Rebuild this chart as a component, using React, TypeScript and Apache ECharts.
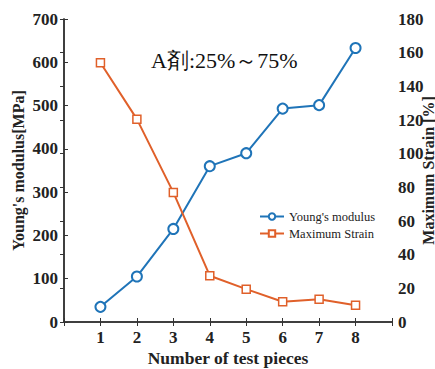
import React, { useEffect, useRef } from "react";
import * as echarts from "echarts";

const pieces = [1, 2, 3, 4, 5, 6, 7, 8];
const youngsModulus = [35, 105, 215, 360, 390, 493, 501, 633];
const maxStrain = [154, 120.5, 77, 27.5, 19.5, 12, 13.5, 10];
const leftTicks = [0, 100, 200, 300, 400, 500, 600, 700];
const rightTicks = [0, 20, 40, 60, 80, 100, 120, 140, 160, 180];

const BLUE = "#1f74b8";
const ORANGE = "#e0602a";
const FONT = "Liberation Serif";

export default function App() {
  const ref = useRef<HTMLDivElement>(null);
  useEffect(() => {
    const chart = echarts.init(ref.current!, null, { renderer: "svg" });
    const axisLine = { show: true, lineStyle: { color: "#333", width: 1.5 } };
    const label = { fontFamily: FONT, fontWeight: "bold", fontSize: 17, color: "#222" };
    const tick = { show: true, inside: true, length: 4, lineStyle: { color: "#333" } };
    chart.setOption({
      animation: false,
      grid: { left: 64, right: 43, top: 19, bottom: 47, outerBoundsMode: "none", containLabel: false },
      title: {
        text: "A剤:25%～75%",
        left: 146,
        top: 44,
        textStyle: { fontFamily: FONT, fontWeight: "normal", fontSize: 22, color: "#111" },
      },
      legend: {
        orient: "vertical",
        left: 254,
        top: 205,
        itemWidth: 24,
        itemHeight: 8,
        itemGap: 4,
        textStyle: { fontFamily: FONT, fontSize: 12.5, color: "#222" },
        data: ["Young's modulus", "Maximum Strain"],
      },
      xAxis: [
        {
          type: "value",
          min: 0,
          max: 9,
          interval: 1,
          name: "Number of test pieces",
          nameLocation: "middle",
          nameGap: 27,
          nameMoveOverlap: false,
          nameTextStyle: { ...label, fontSize: 17.5 },
          axisLine,
          axisTick: tick,
          axisLabel: {
            ...label,
            margin: 7,
            formatter: (v: number) => (pieces.includes(v) ? String(v) : ""),
          },
          splitLine: { show: false },
        },
        {
          type: "value",
          position: "top",
          min: 0,
          max: 9,
          interval: 1,
          axisLine,
          axisTick: tick,
          axisLabel: { show: false },
          splitLine: { show: false },
        },
      ],
      yAxis: [
        {
          type: "value",
          min: leftTicks[0],
          max: leftTicks[leftTicks.length - 1],
          interval: 100,
          name: "Young's modulus[MPa]",
          nameLocation: "middle",
          nameGap: 38,
          nameMoveOverlap: false,
          nameRotate: 90,
          nameTextStyle: { ...label, fontSize: 16 },
          axisLine,
          axisTick: tick,
          axisLabel: { ...label, margin: 6 },
          splitLine: { show: false },
        },
        {
          type: "value",
          position: "right",
          min: rightTicks[0],
          max: rightTicks[rightTicks.length - 1],
          interval: 20,
          name: "Maximum Strain [%]",
          nameLocation: "middle",
          nameGap: 28,
          nameMoveOverlap: false,
          nameRotate: 90,
          nameTextStyle: { ...label, fontSize: 16 },
          axisLine,
          axisTick: tick,
          axisLabel: { ...label, margin: 6 },
          splitLine: { show: false },
        },
      ],
      series: [
        {
          name: "Young's modulus",
          type: "line",
          xAxisIndex: 0,
          yAxisIndex: 0,
          data: pieces.map((p, i) => [p, youngsModulus[i]]),
          symbol: "circle",
          symbolSize: 10,
          itemStyle: { color: "#fff", borderColor: BLUE, borderWidth: 2 },
          lineStyle: { color: BLUE, width: 2 },
        },
        {
          name: "Maximum Strain",
          type: "line",
          xAxisIndex: 0,
          yAxisIndex: 1,
          data: pieces.map((p, i) => [p, maxStrain[i]]),
          symbol: "rect",
          symbolSize: 8,
          itemStyle: { color: "#fff", borderColor: ORANGE, borderWidth: 1.5 },
          lineStyle: { color: ORANGE, width: 2 },
        },
      ],
    });
    return () => chart.dispose();
  }, []);
  return (
    <div
      ref={ref}
      style={{ position: "fixed", left: 0, top: 0, width: 435, height: 369, background: "#fff" }}
    />
  );
}
